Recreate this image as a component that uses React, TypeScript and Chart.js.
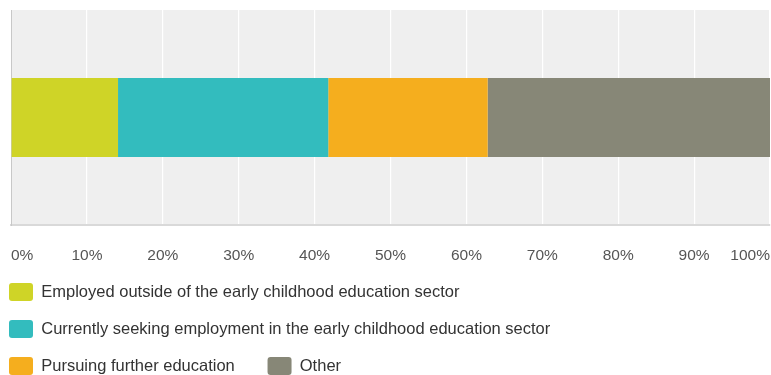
import React, { useEffect, useRef } from "react";
import { Chart, registerables } from "chart.js";

Chart.register(...registerables);

const categories = ["Responses"];
const seriesLabels = [
  "Employed outside of the early childhood education sector",
  "Currently seeking employment in the early childhood education sector",
  "Pursuing further education",
  "Other",
];
const seriesValues = [14.1, 27.7, 21.0, 37.2];
const seriesColors = ["#cfd427", "#33bcbe", "#f5ae1e", "#878777"];
const tickValues = [0, 10, 20, 30, 40, 50, 60, 70, 80, 90, 100];

const FONT = "'Liberation Sans', Arial, sans-serif";

const areaBg = {
  id: "areaBg",
  beforeDraw(chart: any) {
    const { ctx, chartArea } = chart;
    if (!chartArea) return;
    ctx.save();
    ctx.fillStyle = "#efefef";
    ctx.fillRect(chartArea.left, chartArea.top, chartArea.right - chartArea.left, chartArea.bottom - chartArea.top);
    ctx.restore();
  },
};

export default function App() {
  const ref = useRef<HTMLCanvasElement | null>(null);

  useEffect(() => {
    if (!ref.current) return;
    const defaultLabels = (Chart.defaults as any).plugins.legend.labels.generateLabels;
    const chart = new Chart(ref.current, {
      type: "bar",
      data: {
        labels: categories,
        datasets: seriesLabels.map((label, i) => ({
          label,
          data: [seriesValues[i]],
          backgroundColor: seriesColors[i],
          borderWidth: 0,
          barPercentage: 0.367,
          categoryPercentage: 1,
        })),
      },
      options: {
        indexAxis: "y",
        animation: false,
        responsive: true,
        maintainAspectRatio: false,
        layout: { padding: { left: -10, top: 10, right: 1, bottom: -10 } },
        scales: {
          x: {
            stacked: true,
            min: 0,
            max: 100,
            afterBuildTicks: (scale: any) => {
              scale.ticks = tickValues.map((v) => ({ value: v }));
            },
            afterFit: (scale: any) => {
              scale.height = 39;
            },
            grid: {
              color: (ctx: any) => (ctx.index === 0 ? "rgba(0,0,0,0)" : "#ffffff"),
              lineWidth: 1.2,
              drawTicks: true,
              tickLength: 21,
              tickColor: "rgba(0,0,0,0)",
            },
            border: { display: true, color: "#d9d9d9", width: 2 },
            ticks: {
              align: "inner",
              padding: 0,
              color: "#555555",
              font: { family: FONT, size: 15.5 },
              callback: (v: any) => v + "%",
            },
          },
          y: {
            stacked: true,
            display: true,
            afterFit: (scale: any) => {
              scale.width = 21;
            },
            grid: { display: false, drawTicks: false },
            ticks: { display: false },
            border: { display: true, color: "#c8c8c8", width: 1 },
          },
        },
        plugins: {
          legend: {
            position: "bottom",
            align: "start",
            labels: {
              boxWidth: 24,
              boxHeight: 18,
              padding: 19,
              color: "#333333",
              font: { family: FONT, size: 16.5 },
              useBorderRadius: true,
              borderRadius: 3,
              generateLabels: (c: any) =>
                defaultLabels(c).map((l: any, i: number) =>
                  i === 2 ? { ...l, text: l.text + "   " } : l
                ),
            },
          },
          tooltip: { enabled: false },
        },
      },
      plugins: [areaBg],
    } as any);
    return () => chart.destroy();
  }, []);

  return (
    <div style={{ position: "absolute", left: 0, top: 0, width: 771, height: 375 }}>
      <canvas ref={ref} />
    </div>
  );
}
